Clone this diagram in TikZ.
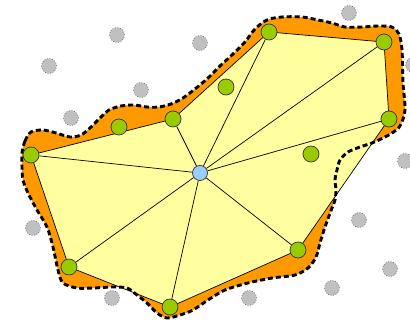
\documentclass[tikz,border=0pt]{standalone}
\usetikzlibrary{backgrounds}
\definecolor{orangefill}{HTML}{FF9900}
\definecolor{yellowfill}{HTML}{FFFFA0}
\definecolor{greenfill}{HTML}{99CC00}
\definecolor{grayfill}{HTML}{C0C0C0}
\definecolor{bluefill}{HTML}{99CCFF}
\tikzset{
  gpt/.style={circle,fill=greenfill,draw=black!80,line width=0.7pt,minimum size=16pt,inner sep=0pt},
  xpt/.style={circle,fill=grayfill,draw=black!70,dotted,line width=0.6pt,minimum size=15pt,inner sep=0pt},
  cpt/.style={circle,fill=bluefill,draw=black!80,line width=0.7pt,minimum size=15pt,inner sep=0pt},
  hulledge/.style={draw=black,line width=0.7pt,fill=yellowfill},
  spoke/.style={draw=black,line width=0.7pt},
  blobfill/.style={fill=orangefill},
  blobline/.style={draw=black,line width=2.9pt,dash pattern=on 5pt off 3pt},
}
\begin{document}
\begin{tikzpicture}[x=1pt,y=-1pt]
\useasboundingbox (0,0) rectangle (410,323);
% hull vertices
\node[gpt] (h1) at (31,155) {};
\node[gpt] (h2) at (173,119) {};
\node[gpt] (h3) at (269,32) {};
\node[gpt] (h4) at (384,42) {};
\node[gpt] (h5) at (389,119) {};
\node[gpt] (h6) at (298,250) {};
\node[gpt] (h7) at (170,307) {};
\node[gpt] (h8) at (69,267) {};
% extra green
\node[gpt] (e1) at (119,127) {};
\node[gpt] (e2) at (226,87) {};
\node[gpt] (e3) at (311,154) {};
% center
\node[cpt] (c) at (200,173) {};
% gray points
\node[xpt] (g1) at (117,35) {};
\node[xpt] (g2) at (200,43) {};
\node[xpt] (g3) at (49,66) {};
\node[xpt] (g4) at (141,90) {};
\node[xpt] (g5) at (71,118) {};
\node[xpt] (g6) at (349,13) {};
\node[xpt] (g7) at (413,65) {};
\node[xpt] (g8) at (405,161) {};
\node[xpt] (g9) at (359,220) {};
\node[xpt] (g10) at (390,269) {};
\node[xpt] (g11) at (332,288) {};
\node[xpt] (g12) at (249,298) {};
\node[xpt] (g13) at (112,298) {};
\node[xpt] (g14) at (33,228) {};
\begin{scope}[on background layer]
\path[blobfill] plot[smooth cycle,tension=0.5] coordinates {
(22,153) (25,141) (31,132) (43,130) (56,133) (70,137) (81,135) (90,128) (100,118) (109,110) (121,106) (134,105) (147,107) (159,107) (171,104) (183,98) (195,89)
(208,78) (220,66) (233,54) (245,42) (255,29) (267,20) (282,17) (302,17) (318,20) (332,23) (345,27) (362,27) (378,26) (392,27) (399,34) (402,50) (403,83) (405,110) (400,126) (392,133)
(383,138) (372,143) (360,147) (348,152) (340,160) (337,170) (335,180) (336,190) (335,200) (332,208) (325,227) (320,243) (316,257) (308,268) (295,275) (272,278) (248,283) (225,290) (208,300) (193,310) (180,315) (167,318) (157,313) (147,303) (137,295) (127,288) (113,287) (93,288) (77,288) (63,283) (58,270) (53,247) (47,227) (37,210) (28,193) (23,180) (22,167)};
\path[hulledge] (h1.center) -- (h2.center) -- (h3.center) -- (h4.center) -- (h5.center) -- (h6.center) -- (h7.center) -- (h8.center) -- cycle;
\foreach \h in {h1,h2,h3,h4,h5,h6,h7,h8} \draw[spoke] (c) -- (\h);
\draw[blobline] plot[smooth cycle,tension=0.5] coordinates {
(22,153) (25,141) (31,132) (43,130) (56,133) (70,137) (81,135) (90,128) (100,118) (109,110) (121,106) (134,105) (147,107) (159,107) (171,104) (183,98) (195,89)
(208,78) (220,66) (233,54) (245,42) (255,29) (267,20) (282,17) (302,17) (318,20) (332,23) (345,27) (362,27) (378,26) (392,27) (399,34) (402,50) (403,83) (405,110) (400,126) (392,133)
(383,138) (372,143) (360,147) (348,152) (340,160) (337,170) (335,180) (336,190) (335,200) (332,208) (325,227) (320,243) (316,257) (308,268) (295,275) (272,278) (248,283) (225,290) (208,300) (193,310) (180,315) (167,318) (157,313) (147,303) (137,295) (127,288) (113,287) (93,288) (77,288) (63,283) (58,270) (53,247) (47,227) (37,210) (28,193) (23,180) (22,167)};
\end{scope}
\end{tikzpicture}
\end{document}
